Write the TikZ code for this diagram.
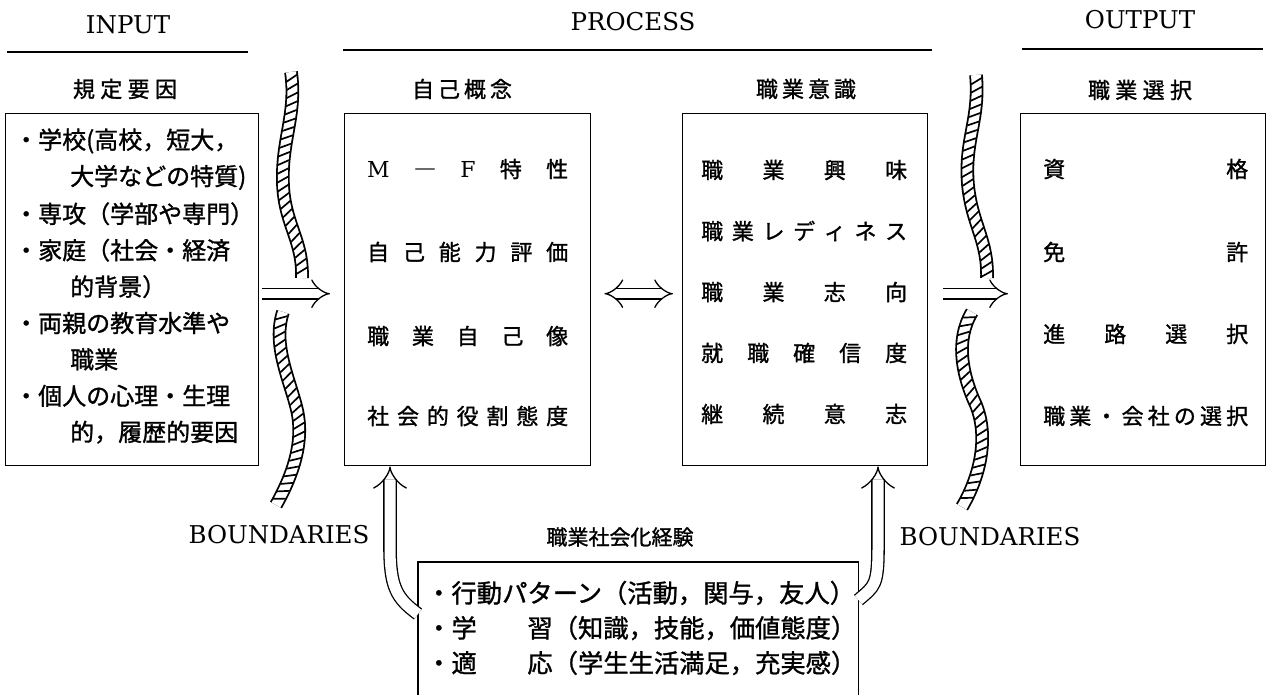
\documentclass[tikz,border=0pt]{standalone}
\usepackage{fontspec}
\newfontfamily\jp{Noto Sans CJK JP}[FakeBold=1.2]
\newfontfamily\ser{DejaVu Serif}
\usetikzlibrary{arrows.meta,decorations.markings,calc}
\newcommand\spread[2]{\makebox[#1][s]{#2}}
\tikzset{
 box/.style={draw, line width=1.4pt, inner sep=0pt, anchor=north west},
 jt/.style={font=\jp\fontsize{22pt}{26pt}\selectfont, inner sep=0pt},
 jl/.style={font=\jp\fontsize{24pt}{26pt}\selectfont, inner sep=0pt, anchor=west},
 jb/.style={font=\jp\fontsize{25.3pt}{26pt}\selectfont, inner sep=0pt, anchor=west},
 lt/.style={font=\ser\fontsize{24.5pt}{30pt}\selectfont, inner sep=0pt},
 rule/.style={line width=1.3pt},
 dbl/.style={double, double distance=9pt, line width=1.3pt},
 rope/.style={double, double distance=10pt, line width=1.8pt,
   postaction={decorate, decoration={markings,
     mark=between positions 0.03 and 0.98 step 8.5pt with {\draw[line width=1.7pt] (3pt,-5.5pt) -- (-3pt,5.5pt);}}}},
}
\begin{document}
\begin{tikzpicture}[x=1pt,y=-1pt]
\useasboundingbox (0,0) rectangle (1268,695);
% section titles
\node[lt] (tin) at (128,25) {INPUT};
\node[lt] (tpr) at (633,22) {PROCESS};
\node[lt] (tout) at (1140,20) {OUTPUT};
\draw[rule] (7,52) -- (248,52);
\draw[rule] (343,50) -- (932,50);
\draw[rule] (1022,49) -- (1263,49);
% headings
\node[jt] (h1) at (125,89) {\spread{104pt}{規\hfill 定\hfill 要\hfill 因}};
\node[jt] (h2) at (462,89) {\spread{100pt}{自\hfill 己\hfill 概\hfill 念}};
\node[jt] (h3) at (806,89) {\spread{100pt}{職\hfill 業\hfill 意\hfill 識}};
\node[jt] (h4) at (1140,90) {\spread{104pt}{職\hfill 業\hfill 選\hfill 択}};
% boxes
\node[box, minimum width=253pt, minimum height=352pt] (b1) at (5,113) {};
\node[box, minimum width=246pt, minimum height=352pt] (b2) at (344,113) {};
\node[box, minimum width=245pt, minimum height=352pt] (b3) at (682,113) {};
\node[box, minimum width=245pt, minimum height=352pt] (b4) at (1020,113) {};
% box 1 text
\node[jl] (l1) at (14,141) {・学校(高校，短大，};
\node[jl] (l2) at (70,177.4) {大学などの特質)};
\node[jl] (l3) at (14,213.8) {・専攻（学部や専門）};
\node[jl] (l4) at (14,250.2) {・家庭（社会・経済};
\node[jl] (l5) at (70,286.6) {的背景）};
\node[jl] (l6) at (14,323) {・両親の教育水準や};
\node[jl] (l7) at (70,359.4) {職業};
\node[jl] (l8) at (14,395.8) {・個人の心理・生理};
\node[jl] (l9) at (70,432.2) {的，履歴的要因};
% box 2 text
\node[jt, anchor=west] (m1) at (367,169) {\spread{201pt}{{\ser M}\hfill ―\hfill {\ser F}\hfill 特\hfill 性}};
\node[jt, anchor=west] (m2) at (367,252) {\spread{201pt}{自\hfill 己\hfill 能\hfill 力\hfill 評\hfill 価}};
\node[jt, anchor=west] (m3) at (367,336) {\spread{201pt}{職\hfill 業\hfill 自\hfill 己\hfill 像}};
\node[jt, anchor=west] (m4) at (367,416) {\spread{201pt}{社\hfill 会\hfill 的\hfill 役\hfill 割\hfill 態\hfill 度}};
% box 3 text
\node[jt, anchor=west] (n1) at (701,170) {\spread{206pt}{職\hfill 業\hfill 興\hfill 味}};
\node[jt, anchor=west] (n2) at (701,231) {\spread{206pt}{職\hfill 業\hfill レ\hfill デ\hfill ィ\hfill ネ\hfill ス}};
\node[jt, anchor=west] (n3) at (701,292) {\spread{206pt}{職\hfill 業\hfill 志\hfill 向}};
\node[jt, anchor=west] (n4) at (701,353) {\spread{206pt}{就\hfill 職\hfill 確\hfill 信\hfill 度}};
\node[jt, anchor=west] (n5) at (701,414) {\spread{206pt}{継\hfill 続\hfill 意\hfill 志}};
% box 4 text
\node[jt, anchor=west] (o1) at (1043,169) {\spread{205pt}{資\hfill 格}};
\node[jt, anchor=west] (o2) at (1043,252) {\spread{205pt}{免\hfill 許}};
\node[jt, anchor=west] (o3) at (1043,334) {\spread{205pt}{進\hfill 路\hfill 選\hfill 択}};
\node[jt, anchor=west] (o4) at (1043,416) {\spread{205pt}{職\hfill 業\hfill ・\hfill 会\hfill 社\hfill の\hfill 選\hfill 択}};
% bottom box
\node[jt, font=\jp\fontsize{21pt}{24pt}\selectfont] (h5) at (620,537) {職業社会化経験};
\node[inner sep=0pt, minimum width=440pt, minimum height=133pt, anchor=north west] (exp) at (418,562) {};
\draw[line width=1.4pt] (exp.south west) -- (exp.north west) -- (exp.north east) -- (exp.south east);
\node[jb] (e1) at (426,593) {・行動パターン（活動，関与，友人）};
\node[jb] (e2) at (426,628) {・学　　習（知識，技能，価値態度）};
\node[jb] (e3) at (426,663) {・適　　応（学生生活満足，充実感）};
% boundaries labels
\node[lt] (bd1) at (279,535) {BOUNDARIES};
\node[lt] (bd2) at (990,537) {BOUNDARIES};
% arrows
\draw[dbl, -{Implies}] ($(b1.east)+(3,4)$) -- ($(b2.west)+(-14,4)$);
\draw[dbl, {Implies}-{Implies}] ($(b2.east)+(13,4)$) -- ($(b3.west)+(-9,4)$);
\draw[dbl, -{Implies}] ($(b3.east)+(15,4)$) -- ($(b4.west)+(-12,4)$);
\draw[dbl, double distance=11pt, -{Implies}] ($(exp.north west)+(0,52)$) .. controls +(-22,-16) and +(0,40) .. ($(b2.south west)+(46,80)$) -- ($(b2.south west)+(46,0)$);
\draw[dbl, double distance=11pt, -{Implies}] ($(exp.north east)+(0,38)$) .. controls +(16,-14) and +(0,40) .. ($(b3.south west)+(196,80)$) -- ($(b3.south west)+(196,0)$);
% boundary ropes
\draw[rope] (291,72) .. controls (297,115) and (281,140) .. (283,185) .. controls (285,225) and (303,240) .. (302,278);
\draw[rope] (283,312) .. controls (272,345) and (290,380) .. (297,410) .. controls (305,445) and (290,480) .. (276,505);
\draw[rope] (976,75) .. controls (980,120) and (964,140) .. (968,185) .. controls (972,225) and (988,240) .. (987,278);
\draw[rope] (972,312) .. controls (955,340) and (962,375) .. (976,405) .. controls (990,440) and (978,480) .. (962,507);
\end{tikzpicture}
\end{document}
